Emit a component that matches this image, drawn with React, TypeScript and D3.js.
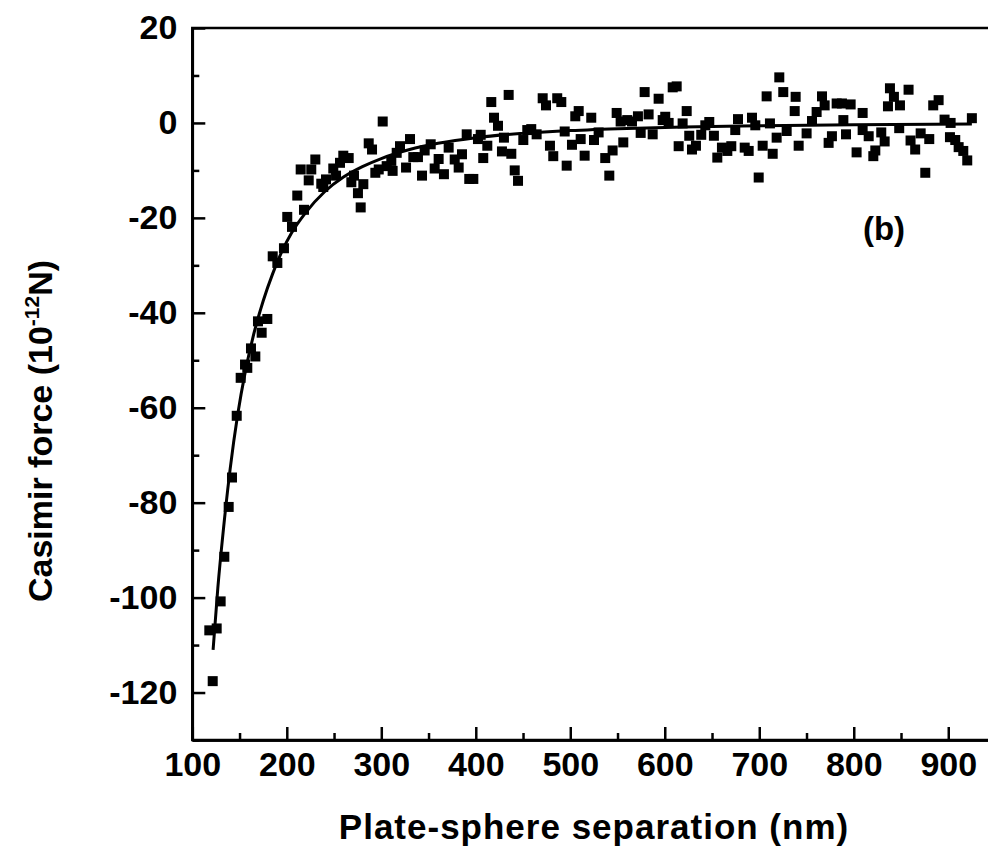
import React, { useEffect, useRef } from "react";
import * as d3 from "d3";

const separation = [
  118, 121.6, 125.8, 130, 133.9, 138.5, 142, 147, 151.2, 155.8, 158.2, 162.1, 166.7, 169.5, 173.4, 179.4,
  185.1, 190, 197, 200.5, 205.5, 211.1, 214.7, 218.2, 223.2, 225.9, 230.2, 236.5, 238.6, 241.5, 249.2,
  252.1, 256.3, 259.8, 265.5, 268.3, 271.1, 275.3, 278.2, 281, 286.7, 290.2, 293.7, 297.3, 301.5, 305.7,
  310.6, 312, 316.3, 319.8, 326.2, 330.4, 333.9, 338.8, 343.1, 345.9, 352.3, 356.5, 360.7, 366.3, 371.3,
  377.7, 381.9, 385.4, 390.4, 393.1, 397.4, 402.3, 405.2, 407.9, 412.2, 416.4, 419.3, 423.5, 427.7, 429.8,
  434.8, 437.6, 441.2, 444.7, 450.3, 454.5, 458.7, 464.4, 470.8, 474.3, 478.5, 482, 486.2, 490.5, 494.1,
  496.2, 501.8, 505.3, 508.9, 511, 515.2, 522.2, 525.1, 530, 537, 541.3, 544.8, 549.1, 553.3, 556.1,
  560.3, 565.3, 571.6, 574.5, 578.7, 582.9, 587.2, 593.5, 597.8, 600.5, 604.1, 608.4, 612.6, 614.7, 618.9,
  623.2, 625.9, 628.8, 633, 638.6, 642.9, 647.1, 652, 655.6, 660.5, 666.2, 670.4, 674.6, 677.5, 684.6,
  688.8, 692.3, 695.8, 699.4, 703.6, 707.8, 711.3, 714.2, 718.4, 721.2, 725.4, 729, 737.5, 738.5, 741.7,
  750.1, 755.8, 760.7, 766.4, 769.2, 773.4, 776.9, 781.9, 787.5, 789, 791.8, 796.7, 803, 809.4, 809.4,
  815.8, 820.7, 822.8, 829.1, 832.7, 836.2, 838.3, 842.5, 848.1, 848.9, 858, 860.1, 865, 870.8, 875.7,
  879.9, 884.1, 889.8, 896.1, 901.8, 902.5, 907.4, 911, 915.9, 920.1, 925
];
const force = [
  -106.9, -117.6, -106.5, -100.8, -91.4, -80.9, -74.7, -61.7, -53.7, -50.9, -51.6, -47.5, -49.2, -41.8, -44.2, -41.3,
  -28.1, -29.5, -26.4, -19.8, -21.9, -15.3, -9.8, -18.3, -12.1, -9.8, -7.7, -12.8, -13.5, -11.9, -9.6,
  -11.1, -8.4, -6.9, -7.4, -12.5, -11.1, -14.8, -17.8, -12.9, -4.3, -5.6, -10.5, -9.8, 0.3, -9.1,
  -8, -10.1, -6.3, -4.9, -9.4, -3.4, -7.2, -7.2, -11.1, -5.8, -4.5, -9.6, -7.6, -10.8, -5.2,
  -7.7, -9.4, -6.6, -2.4, -11.8, -11.8, -3.4, -2.5, -7.4, -4.8, 4.4, 1.1, -0.6, -6, -3.1,
  5.9, -6.5, -10, -12.2, -3.6, -1.5, -1.3, -2.4, 5.2, 3.7, -4.8, -7, 5.2, 4.4, -1.8,
  -9, -4.6, 1.4, 2.5, -3.4, -6.9, 1.1, -3.6, -2, -7.4, -11.1, -5.8, 2.1, 0.3, -4.1,
  0.6, 0.3, 1.4, -2.1, 6.5, 1.8, -2.4, 5.1, 0.6, 1.3, 0, 7.5, 7.7, -4.9, -0.1,
  2.5, -2.7, -5.6, -4.8, -2.5, -0.5, 0.2, -2.7, -7.3, -5.2, -5.9, -4.9, -1.5, 0.8, -5.2,
  -5.9, 1.1, -0.5, -11.5, -4.8, 5.6, -0.1, -6.5, -3.1, 9.6, 6.5, -1.7, 2.5, 5.5, -4.8,
  -2.2, 0.4, 2.3, 5.6, 3.7, -4.2, -2.8, 4.1, 4.1, 0.6, -2.4, 3.9, -6.2, 2.1, -1.5,
  -2.8, -7, -5.8, -2, -3.9, 3.5, 7.3, 5.5, -1.1, 3.7, 7, -3.7, -5.6, -2.2, -10.5,
  -3.4, 3.7, 4.8, 0.7, -3, 0, -3.6, -5.1, -5.9, -7.9, 1
];

// theoretical curve
const fitSeparation = [122, 127, 133, 140, 148, 156, 165, 175, 185, 195, 205, 220, 240, 260, 280, 300, 330, 360, 400, 450, 500, 560, 620, 700, 800, 925];
const fitForce = [-111, -98, -85.5, -73, -61.5, -52.5, -44.5, -37.5, -31.8, -27, -23.2, -18.9, -14.5, -11.4, -9.2, -7.5, -5.6, -4.3, -3.1, -2.2, -1.6, -1.15, -0.85, -0.6, -0.4, -0.25];

const xMajor = [100, 200, 300, 400, 500, 600, 700, 800, 900];
const xMinor = [150, 250, 350, 450, 550, 650, 750, 850, 950];
const yMajor = [-120, -100, -80, -60, -40, -20, 0, 20];
const yMinor = [-130, -110, -90, -70, -50, -30, -10, 10];

const width = 988;
const height = 853;
const font = "'Liberation Sans', Arial, Helvetica, sans-serif";

export default function App() {
  const ref = useRef<SVGSVGElement>(null);

  useEffect(() => {
    const svg = d3.select(ref.current);
    svg.selectAll("*").remove();

    const x = d3.scaleLinear().domain([100, 950]).range([192.3, 995.5]);
    const y = d3.scaleLinear().domain([-130, 20]).range([740, 28]);

    // frame (top and right; right falls off the page)
    svg
      .append("rect")
      .attr("x", x(100))
      .attr("y", y(20))
      .attr("width", x(950) - x(100))
      .attr("height", y(-130) - y(20))
      .attr("fill", "none")
      .attr("stroke", "#000")
      .attr("stroke-width", 2.5);

    const styleAxis = g => {
      g.select(".domain").attr("stroke-width", 2.5);
      g.selectAll(".tick line").attr("stroke-width", 2.5);
      g.selectAll("text")
        .attr("font-family", font)
        .attr("font-weight", "bold")
        .attr("font-size", 34)
        .attr("fill", "#000");
    };

    const label = d => String(d); // plain hyphen, as in the print

    svg
      .append("g")
      .attr("transform", `translate(0,${y(-130)})`)
      .call(d3.axisBottom(x).tickValues(xMinor).tickSize(-7).tickSizeOuter(0).tickFormat(() => ""))
      .call(styleAxis);
    svg
      .append("g")
      .attr("transform", `translate(0,${y(-130)})`)
      .call(d3.axisBottom(x).tickValues(xMajor).tickSize(-13).tickSizeOuter(0).tickPadding(12).tickFormat(label))
      .call(styleAxis);

    svg
      .append("g")
      .attr("transform", `translate(${x(100)},0)`)
      .call(d3.axisLeft(y).tickValues(yMinor).tickSize(-7).tickSizeOuter(0).tickFormat(() => ""))
      .call(styleAxis);
    svg
      .append("g")
      .attr("transform", `translate(${x(100)},0)`)
      .call(d3.axisLeft(y).tickValues(yMajor).tickSize(-13).tickSizeOuter(0).tickPadding(15).tickFormat(label))
      .call(styleAxis);

    // fit curve
    svg
      .append("path")
      .datum(fitSeparation.map((s, i) => [s, fitForce[i]]))
      .attr("fill", "none")
      .attr("stroke", "#000")
      .attr("stroke-width", 3)
      .attr(
        "d",
        d3
          .line()
          .x(d => x(d[0]))
          .y(d => y(d[1]))
          .curve(d3.curveMonotoneX)
      );

    // data squares
    const size = 10;
    svg
      .append("g")
      .selectAll("rect")
      .data(separation.map((s, i) => [s, force[i]]))
      .join("rect")
      .attr("x", d => x(d[0]) - size / 2)
      .attr("y", d => y(d[1]) - size / 2)
      .attr("width", size)
      .attr("height", size)
      .attr("fill", "#000");

    // axis titles
    svg
      .append("text")
      .attr("x", 594)
      .attr("y", 839)
      .attr("text-anchor", "middle")
      .attr("font-family", font)
      .attr("font-weight", "bold")
      .attr("font-size", 35)
      .attr("letter-spacing", 1)
      .text("Plate-sphere separation (nm)");

    const yTitle = svg
      .append("text")
      .attr("transform", "translate(52,431) rotate(-90)")
      .attr("text-anchor", "middle")
      .attr("font-family", font)
      .attr("font-weight", "bold")
      .attr("font-size", 34);
    yTitle.append("tspan").text("Casimir force (10");
    yTitle.append("tspan").attr("font-size", 21).attr("dy", -13).text("-12");
    yTitle.append("tspan").attr("dy", 13).text("N)");

    svg
      .append("text")
      .attr("x", 884)
      .attr("y", 240)
      .attr("text-anchor", "middle")
      .attr("font-family", font)
      .attr("font-weight", "bold")
      .attr("font-size", 33)
      .text("(b)");
  }, []);

  return (
    <svg
      ref={ref}
      width={width}
      height={height}
      style={{ position: "absolute", left: 0, top: 0, background: "#fff" }}
    />
  );
}
